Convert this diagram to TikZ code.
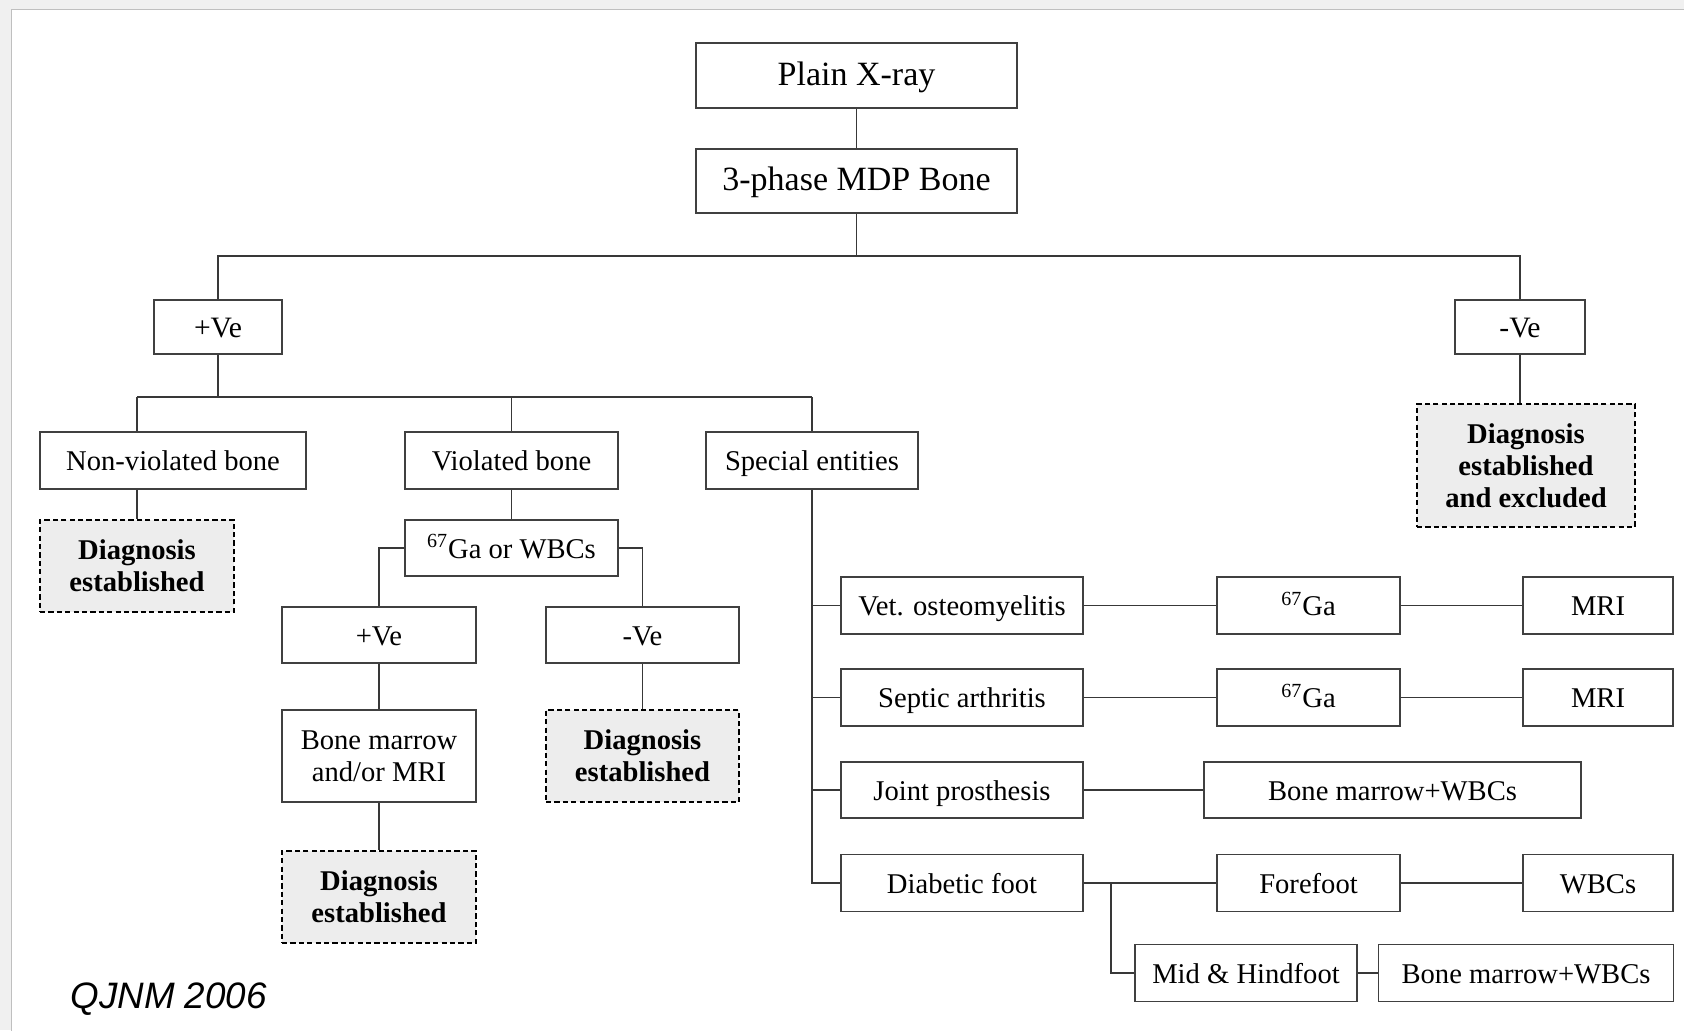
\documentclass[tikz,border=0pt]{standalone}
\usepackage{fontspec}
\setmainfont{Liberation Serif}
\newfontfamily\arialfont{Liberation Sans}
\begin{document}
\begin{tikzpicture}[x=0.5pt,y=-0.5pt,
  sz/.style 2 args={minimum width=#1*0.5pt, minimum height=#2*0.5pt},
  mbox/.style={draw=black!75, line width=0.9pt, fill=white, inner sep=0pt, align=center,
    font=\fontsize{14.3}{16}\selectfont},
  box/.style={mbox, text height=10.3pt, text depth=0.3pt},
  bigbox/.style={mbox, text height=9.8pt, text depth=0.3pt, font=\fontsize{17}{19}\selectfont},
  dbox/.style={draw=black, line width=1.2pt, dash pattern=on 2.6pt off 1.6pt, fill=black!7,
    inner sep=0pt, align=center, font=\fontsize{14.3}{16}\selectfont\bfseries},
  conn/.style={draw=black!78, line width=0.8pt}
]
\useasboundingbox (0,0) rectangle (1684,1030);
\fill[black!6] (0,0) rectangle (1684,1030);
\filldraw[fill=white, draw=black!25, line width=0.5pt] (11,9) rectangle (1690,1040);

% nodes
\node[bigbox, sz={321}{65}] (px) at (856.5,75.5) {Plain X-ray};
\node[bigbox, sz={321}{64}] (mdp) at (856.5,181) {3-phase MDP Bone};
\node[box, sz={128}{54}, font=\fontsize{14.8}{16}\selectfont] (pve) at (218,327) {+Ve};
\node[box, sz={130}{54}, font=\fontsize{14.8}{16}\selectfont] (nve) at (1520,327) {-Ve};
\node[box, sz={266}{57}] (nonv) at (173,460.5) {Non-violated bone};
\node[box, sz={213}{57}] (viol) at (511.5,460.5) {Violated bone};
\node[box, sz={212}{57}] (spec) at (812,460.5) {Special entities};
\node[dbox, sz={194}{92}] (diag1) at (137,566) {Diagnosis\\established};
\node[box, sz={213}{56}] (ga) at (511.5,548) {\textsuperscript{67}Ga or WBCs};
\node[box, sz={194}{56}] (pve2) at (379,635) {+Ve};
\node[box, sz={193}{56}] (nve2) at (642.5,635) {-Ve};
\node[mbox, sz={194}{92}] (bm) at (379,756) {Bone marrow\\and/or MRI};
\node[dbox, sz={193}{92}] (diag2) at (642.5,756) {Diagnosis\\established};
\node[dbox, sz={194}{92}] (diag3) at (379,897) {Diagnosis\\established};
\node[dbox, sz={218}{123}] (diag4) at (1526,465.5) {Diagnosis\\established\\and excluded};

\node[box, sz={242}{57}] (vet) at (962,605.5) {Vet. osteomyelitis};
\node[box, sz={242}{57}] (sep) at (962,697.5) {Septic arthritis};
\node[box, sz={242}{56}] (joint) at (962,790) {Joint prosthesis};
\node[box, sz={242}{57}] (diab) at (962,883) {Diabetic foot};
\node[box, sz={183}{57}] (ga1) at (1308.5,605.5) {\textsuperscript{67}Ga};
\node[box, sz={150}{57}] (mri1) at (1598,605.5) {MRI};
\node[box, sz={183}{57}] (ga2) at (1308.5,697.5) {\textsuperscript{67}Ga};
\node[box, sz={150}{57}] (mri2) at (1598,697.5) {MRI};
\node[box, sz={377}{56}] (bmw1) at (1392.5,790) {Bone marrow+WBCs};
\node[box, sz={183}{57}] (fore) at (1308.5,883) {Forefoot};
\node[box, sz={150}{57}] (wbc) at (1598,883) {WBCs};
\node[box, sz={222}{57}] (mid) at (1246,973) {Mid \& Hindfoot};
\node[box, sz={295}{57}] (bmw2) at (1526,973) {Bone marrow+WBCs};

\node[anchor=base west, inner sep=0pt, font=\arialfont\itshape\fontsize{18.4}{20}\selectfont] (qj) at (70,1008) {QJNM 2006};

% connectors
\coordinate (j1) at (218,256);
\coordinate (j2) at (218,397);
\coordinate (db) at (1111,883);
\draw[conn] (px.south) -- (mdp.north);
\draw[conn] (mdp.south) -- (mdp.south |- j1);
\draw[conn] (pve.north) -- (j1) -- (j1 -| nve.north) -- (nve.north);
\draw[conn] (nve.south) -- (nve.south |- diag4.north);
\draw[conn] (pve.south) -- (j2);
\draw[conn] (diag1.north |- j2) -- (spec.north |- j2);
\draw[conn] (diag1.north |- j2) -- (diag1.north |- nonv.north);
\draw[conn] (viol.north |- j2) -- (viol.north);
\draw[conn] (spec.north |- j2) -- (spec.north);
\draw[conn] (diag1.north |- nonv.south) -- (diag1.north);
\draw[conn] (viol.south) -- (ga.north);
\draw[conn] (ga.west) -| (pve2.north);
\draw[conn] (ga.east) -| (nve2.north);
\draw[conn] (pve2.south) -- (bm.north);
\draw[conn] (bm.south) -- (diag3.north);
\draw[conn] (nve2.south) -- (diag2.north);
\draw[conn] (spec.south) -- (spec.south |- diab.west) -- (diab.west);
\draw[conn] (spec.south |- vet.west) -- (vet.west);
\draw[conn] (spec.south |- sep.west) -- (sep.west);
\draw[conn] (spec.south |- joint.west) -- (joint.west);
\draw[conn] (vet.east) -- (ga1.west);
\draw[conn] (ga1.east) -- (mri1.west);
\draw[conn] (sep.east) -- (ga2.west);
\draw[conn] (ga2.east) -- (mri2.west);
\draw[conn] (joint.east) -- (bmw1.west);
\draw[conn] (diab.east) -- (fore.west);
\draw[conn] (fore.east) -- (wbc.west);
\draw[conn] (db) |- (mid.west);
\draw[conn] (mid.east) -- (bmw2.west);
\end{tikzpicture}
\end{document}
